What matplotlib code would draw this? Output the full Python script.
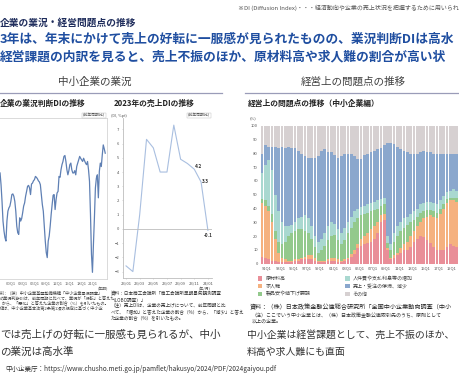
import numpy as np
import matplotlib
matplotlib.use('Agg')
import matplotlib.pyplot as plt

plt.rcParams['font.family'] = ['Noto Sans CJK JP', 'DejaVu Sans']

W, H = 460, 380
fig = plt.figure(figsize=(4.6, 3.8), dpi=100)
fig.patch.set_facecolor('white')

# ---------------- data ----------------
# Left: business condition DI (quarterly, from 1997Q2)
di_start = 1997.3
di_values = [-23.9, -29.0, -36.2, -44.8, -49.1, -52.0, -53.5, -44.8, -40.5, -39.1,
             -38.3, -36.2, -33.3, -33.0, -34.0, -36.2, -40.5, -47.0, -49.9, -50.6,
             -43.4, -44.8, -43.7, -41.2, -38.3, -36.9, -34.0, -31.9, -29.7, -29.3,
             -30.4, -33.3, -28.7, -28.3, -27.3, -26.8, -25.4, -25.8, -26.4, -27.3,
             -27.8, -29.0, -33.3, -37.6, -40.5, -47.0, -53.5, -58.5, -60.7, -53.5,
             -51.3, -47.0, -41.9, -37.6, -33.6, -33.3, -39.8, -35.5, -32.6, -31.9,
             -25.4, -25.8, -22.5, -20.3, -18.9, -16.7, -16.3, -18.9, -22.5, -24.7,
             -22.9, -20.3, -19.6, -22.5, -23.9, -23.9, -22.9, -24.7, -21.1, -19.6,
             -18.2, -16.7, -17.5, -18.2, -18.9, -17.5, -18.6, -19.6, -20.3, -18.9,
             -22.5, -27.5, -41.9, -59.2, -67.1, -54.9, -43.4, -30.4, -26.1, -24.7,
             -34.7, -23.2, -19.6, -21.1, -16.0, -11.7, -13.4, -15.3]
di_tick_years = [2000, 2003, 2006, 2009, 2012, 2015, 2018, 2021]
di_tick_labels = ['00Q1', '03Q1', '06Q1', '09Q1', '12Q1', '15Q1', '18Q1', '21Q1']

# Middle: 2023 sales DI (monthly)
sales_months = ['23/01', '23/02', '23/03', '23/04', '23/05', '23/06', '23/07',
                '23/08', '23/09', '23/10', '23/11', '23/12', '24/01']
sales_di = [-2.6, -3.0, 1.0, 6.3, 5.7, 4.0, 4.0, 7.3, 4.9, 4.6, 4.2, 3.3, -0.1]
sales_labeled = {10: '4.2', 11: '3.3', 12: '-0.1'}

# Right: management problems share (%), semiannual from 1990
prob_start = 1990.0
raw_material = [5, 4, 3, 2, 2, 1, 1, 1, 1, 1, 2, 2, 3, 3, 3, 3, 2, 1, 1, 1,
                2, 2, 2, 1, 1, 2, 3, 5, 7, 11, 13, 14, 15, 16, 18, 22, 30, 32, 10, 3,
                4, 6, 8, 10, 10, 12, 16, 18, 20, 19, 17, 15, 12, 10, 10, 10, 12, 14, 13, 12,
                10, 8]
labor_shortage = [39, 38, 35, 28, 16, 7, 3, 2, 1, 1, 1, 1, 1, 2, 3, 3, 2, 1, 1, 1,
                  1, 2, 2, 2, 1, 1, 1, 2, 3, 3, 5, 6, 7, 9, 9, 8, 5, 4, 1, 1,
                  2, 2, 3, 4, 6, 8, 8, 9, 10, 14, 17, 20, 22, 23, 26, 30, 32, 32, 33, 33,
                  30, 22]
price_cut = [3, 4, 4, 6, 6, 8, 10, 13, 18, 20, 21, 22, 21, 19, 16, 12, 8, 6, 8, 11,
             14, 16, 17, 14, 12, 14, 18, 19, 20, 19, 17, 16, 15, 13, 12, 10, 7, 7, 4, 6,
             10, 12, 13, 12, 12, 10, 8, 7, 7, 5, 5, 4, 4, 4, 4, 3, 3, 2, 2, 3,
             4, 6]
labor_cost = [19, 26, 33, 32, 26, 22, 16, 11, 7, 6, 6, 8, 9, 11, 11, 9, 8, 8, 8, 9,
              10, 10, 8, 8, 8, 9, 8, 8, 8, 7, 6, 6, 6, 6, 6, 6, 5, 5, 5, 4,
              6, 7, 6, 7, 6, 6, 6, 6, 6, 6, 6, 6, 6, 6, 6, 6, 5, 5, 6, 5,
              6, 9]
sales_decline = [14, 14, 10, 17, 35, 46, 55, 57, 58, 56, 54, 49, 46, 43, 44, 50, 57, 62, 64, 61,
                 54, 51, 50, 52, 56, 54, 50, 46, 40, 36, 35, 37, 37, 37, 37, 37, 37, 38, 68, 74,
                 65, 58, 53, 49, 47, 44, 42, 40, 38, 38, 36, 36, 36, 37, 34, 31, 28, 27, 26, 27,
                 30, 35]
other = [20, 14, 15, 15, 15, 16, 15, 16, 15, 16, 16, 18, 20, 22, 23, 23, 23, 22, 18, 17,
         19, 19, 21, 23, 22, 20, 20, 20, 22, 24, 24, 21, 20, 19, 18, 17, 16, 14, 12, 12,
         13, 15, 17, 18, 19, 20, 20, 20, 19, 18, 19, 19, 20, 20, 20, 20, 20, 20, 20, 20,
         20, 20]
prob_series = [raw_material, labor_shortage, price_cut, labor_cost, sales_decline, other]
prob_names = ['原材料高', '求人難', '製品安や値下げ要請',
              '人件費や支払利息等の増加', '売上・受注の停滞、減少', 'その他']
prob_colors = ['#e98e98', '#f5b17f', '#93c98c', '#a9d8d0', '#8aa7cd', '#d6d0d1']
prob_tick_years = list(range(1991, 2020, 2))
prob_tick_labels = ['%02dQ1' % (y % 100) for y in prob_tick_years]

# ---------------- helpers ----------------
def axes_px(x0, y0, x1, y1):
    return fig.add_axes([x0 / W, 1 - y1 / H, (x1 - x0) / W, (y1 - y0) / H])

def txt(x, y, s, **kw):
    kw.setdefault('va', 'center')
    kw.setdefault('ha', 'left')
    fig.text(x / W, 1 - y / H, s, **kw)

# ---------------- header texts ----------------
txt(459, 8, '※DI (Diffusion Index)・・・経済動向や企業の売上状況を把握するために用いられ',
    ha='right', fontsize=4.3, color='#555555')
txt(0, 23, '企業の業況・経営問題点の推移', fontsize=7, fontweight='bold', color='#1f2d5c')
blue = '#1f4ea0'
txt(0, 39.5, '3年は、年末にかけて売上の好転に一服感が見られたものの、業況判断DIは高水',
    fontsize=9.2, fontweight='bold', color=blue)
txt(0, 56.5, '経営課題の内訳を見ると、売上不振のほか、原材料高や求人難の割合が高い状',
    fontsize=9.2, fontweight='bold', color=blue)

txt(95, 82, '中小企業の業況', ha='center', fontsize=7.6, color='#404040')
txt(353, 82, '経営上の問題点の推移', ha='center', fontsize=7.6, color='#404040')
fig.add_artist(plt.Line2D([0, 222 / W], [1 - 92.7 / H] * 2, color='#9a9cb8', lw=0.9))
fig.add_artist(plt.Line2D([245 / W, 1], [1 - 92.7 / H] * 2, color='#9a9cb8', lw=0.9))

# ---------------- left chart ----------------
txt(0, 103, '企業の業況判断DIの推移', fontsize=5.6, fontweight='bold', color='#222222')
axL = axes_px(-20, 118, 107, 279)
xq = di_start + 0.25 * np.arange(len(di_values))
axL.plot(xq, di_values, color='#5f80b4', lw=0.9)
axL.set_xlim(1992.2, 2024.5)
axL.set_ylim(-70, 0)
axL.set_yticks([])
axL.set_xticks(di_tick_years)
axL.set_xticklabels(di_tick_labels)
axL.tick_params(axis='x', length=0, labelsize=3, labelcolor='#666666', pad=2)
for s in axL.spines.values():
    s.set_color('#d4d4d4')
    s.set_linewidth(0.6)
txt(105, 115.5, '(前年同期比)', ha='right', fontsize=2.8, color='#555555',
    bbox=dict(boxstyle='square,pad=0.2', fc='white', ec='#bbbbbb', lw=0.3))
txt(103, 289, '(年期)', ha='center', fontsize=2.8, color='#555555')

left_notes = ['料：（独）中小企業基盤整備機構「中小企業景況調査」',
              'の業況判断DIは、前年同期に比べて、業況が「好転」と答えた',
              '  から、「悪化」と答えた企業の割合（%）を引いたもの。',
              '値は、中小企業基本法第2条第1項の規定に基づく中小企']
for i, s in enumerate(left_notes):
    txt(0, 293 + 5 * i, s, fontsize=3.0, color='#444444')

# ---------------- middle chart ----------------
txt(114, 103, '2023年の売上DIの推移', fontsize=5.6, fontweight='bold', color='#222222')
axM = axes_px(122.7, 118, 212, 277.7)
mx = np.arange(len(sales_di))
axM.plot(mx, sales_di, color='#a9bfe0', lw=0.8)
axM.axhline(0, color='#bdbdbd', lw=0.6)
axM.set_xlim(-0.49, 12.6)
axM.set_ylim(-3.43, 7.8)
axM.set_yticks(range(-3, 8))
axM.set_xticks(mx[::2])
axM.set_xticklabels(sales_months[::2])
axM.tick_params(labelsize=3, labelcolor='#555555', length=1, width=0.4, color='#bbbbbb', pad=1.5)
for k in ['top', 'right']:
    axM.spines[k].set_visible(False)
for k in ['left', 'bottom']:
    axM.spines[k].set_color('#bdbdbd')
    axM.spines[k].set_linewidth(0.6)
offsets = {10: (4, 3), 11: (4, 0), 12: (0, -5)}
for i, lab in sales_labeled.items():
    axM.annotate(lab, (mx[i], sales_di[i]), xytext=offsets[i], textcoords='offset pixels',
                 ha='center', va='center', fontsize=3.4, fontweight='bold', color='#333333')
txt(119, 115.5, '(DI, %pt)', ha='center', fontsize=2.8, color='#555555')
txt(210, 115.5, '(前年同期比)', ha='right', fontsize=2.8, color='#555555',
    bbox=dict(boxstyle='square,pad=0.2', fc='white', ec='#bbbbbb', lw=0.3))
txt(205, 289.5, '(年/月)', ha='center', fontsize=2.8, color='#555555')

mid_notes = ['資料：日本商工会議所「商工会議所早期景気観測調査',
             '（LOBO調査）」',
             '（注）売上DIは、企業の売上げについて、前年同期と比',
             'べて、「増加」と答えた企業の割合（%）から、「減少」と答え',
             'た企業の割合（%）を引いたもの。']
for i, s in enumerate(mid_notes):
    txt(111, 294 + 6 * i, s, fontsize=3.3, color='#333333')

# ---------------- right chart ----------------
txt(248, 103, '経営上の問題点の推移（中小企業編）', fontsize=5.6, fontweight='bold', color='#222222')
axR = axes_px(260.7, 126, 500, 263.5)
px_ = prob_start + 0.5 * np.arange(len(raw_material))
bottom = np.zeros(len(px_))
for vals, name, col in zip(prob_series, prob_names, prob_colors):
    axR.bar(px_, vals, width=0.42, bottom=bottom, align='edge', color=col,
            edgecolor='none', label=name)
    bottom += np.array(vals, dtype=float)
axR.set_xlim(prob_start, prob_start + 239.3 / 6.6)
axR.set_ylim(0, 100)
axR.set_yticks(range(0, 101, 10))
axR.set_xticks(prob_tick_years)
axR.set_xticklabels(prob_tick_labels)
axR.tick_params(labelsize=3, labelcolor='#555555', length=0, pad=2)
for s in axR.spines.values():
    s.set_visible(False)
txt(250, 118, '(%)', fontsize=3, color='#555555')
axR.legend(loc='upper left', bbox_to_anchor=(258 / W, 1 - 276 / H),
           bbox_transform=fig.transFigure, ncol=2, frameon=False, fontsize=3.6,
           handlelength=0.9, handleheight=0.9, handletextpad=0.6, columnspacing=7,
           labelspacing=0.55, labelcolor='#444444', borderaxespad=0, borderpad=0)

txt(250, 307, '資料：（株）日本政策金融公庫総合研究所「全国中小企業動向調査（中小',
    fontsize=4.4, color='#222222')
txt(252, 315, '（注）ここでいう中小企業とは、（株）日本政策金融公庫取引先のうち、原則として',
    fontsize=3.6, color='#333333')
txt(252, 321.5, '以上の企業。', fontsize=3.6, color='#333333')

# ---------------- bottom texts ----------------
txt(0, 335, 'では売上げの好転に一服感も見られるが、中小', fontsize=7.6, color='#333333')
txt(0, 352, 'の業況は高水準', fontsize=7.6, color='#333333')
txt(247, 335, '中小企業は経営課題として、売上不振のほか、', fontsize=7.1, color='#333333')
txt(247, 352, '料高や求人難にも直面', fontsize=7.1, color='#333333')
txt(5, 369, '中小企業庁：https://www.chusho.meti.go.jp/pamflet/hakusyo/2024/PDF/2024gaiyou.pdf',
    fontsize=4.7, color='#333333')

fig.savefig('out.png', dpi=100, facecolor='white')
